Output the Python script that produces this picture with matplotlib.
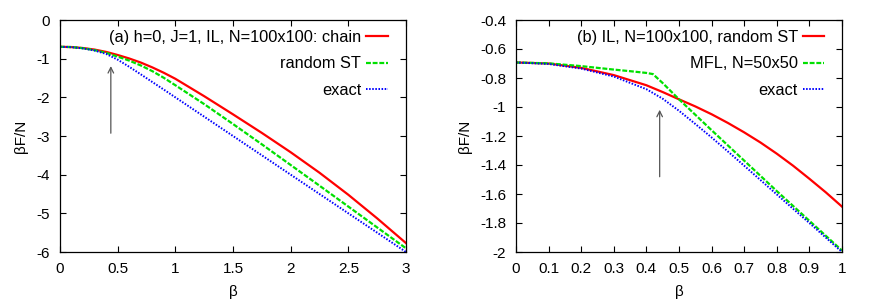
import matplotlib
matplotlib.use("Agg")
import matplotlib.pyplot as plt
from matplotlib.ticker import FormatStrFormatter

plt.rcParams['font.family'] = ['Liberation Sans', 'DejaVu Sans']
plt.rcParams['axes.unicode_minus'] = False

# (a) full beta range
beta_a = [0, 0.1, 0.2, 0.3, 0.4, 0.5, 0.6, 0.7, 0.8, 0.9, 1.0,
          1.25, 1.5, 1.75, 2.0, 2.25, 2.5, 2.75, 3.0]
chain_a = [-0.693, -0.70, -0.725, -0.765, -0.825, -0.905, -0.995, -1.10, -1.225, -1.365, -1.52,
           -1.97, -2.44, -2.92, -3.42, -3.95, -4.52, -5.13, -5.77]
randst_a = [-0.693, -0.70, -0.73, -0.78, -0.85, -0.947, -1.05, -1.175, -1.322, -1.495, -1.687,
            -2.175, -2.69, -3.215, -3.75, -4.285, -4.825, -5.365, -5.905]
exact_a = [-0.693, -0.703, -0.735, -0.79, -0.877, -1.026, -1.21, -1.405, -1.603, -1.80, -2.0,
           -2.5, -3.0, -3.5, -4.0, -4.5, -5.0, -5.5, -6.0]

# (b) zoom on 0..1
beta_b = [0, 0.1, 0.2, 0.3, 0.4, 0.45, 0.5, 0.55, 0.6, 0.65, 0.7, 0.75,
          0.8, 0.85, 0.9, 0.95, 1.0]
randst_b = [-0.693, -0.70, -0.73, -0.78, -0.85, -0.897, -0.947, -0.996, -1.05, -1.11,
            -1.175, -1.245, -1.322, -1.405, -1.495, -1.588, -1.687]
exact_b = [-0.693, -0.703, -0.735, -0.79, -0.877, -0.943, -1.026, -1.117, -1.21, -1.307,
           -1.405, -1.504, -1.603, -1.702, -1.80, -1.90, -2.0]
beta_mfl = [0, 0.1, 0.2, 0.3, 0.35, 0.4, 0.42, 0.45, 0.5, 0.6, 0.7, 0.8, 0.9, 1.0]
mfl_b = [-0.693, -0.699, -0.718, -0.742, -0.753, -0.765, -0.773, -0.835, -0.947,
         -1.16, -1.37, -1.58, -1.785, -1.99]

beta_c = 0.4407  # arrow position

W, H = 872, 305
fig = plt.figure(figsize=(W / 100, H / 100), dpi=100)
ax1 = fig.add_axes([60 / W, 1 - 252 / H, 346 / W, 232 / H])
ax2 = fig.add_axes([516 / W, 1 - 252 / H, 326 / W, 232 / H])

red = dict(color='#ff0000', lw=1.6, ls='-')
green = dict(color='#00e000', lw=1.6, ls=(0, (2.2, 0.8)))
blue = dict(color='#0000ff', lw=1.4, ls=(0, (0.8, 0.8)))

ax1.plot(beta_a, chain_a, label='(a) h=0, J=1, IL, N=100x100: chain', **red)
ax1.plot(beta_a, randst_a, label='random ST', **green)
ax1.plot(beta_a, exact_a, label='exact', **blue)
ax1.annotate('', xy=(beta_c, -1.12), xytext=(beta_c, -3.0),
             arrowprops=dict(arrowstyle='->', color='#555555', lw=0.9))
ax1.set_xlim(0, 3)
ax1.set_ylim(-6, 0)
ax1.set_xticks([0, 0.5, 1, 1.5, 2, 2.5, 3])
ax1.set_yticks([0, -1, -2, -3, -4, -5, -6])

ax2.plot(beta_b, randst_b, label='(b) IL, N=100x100, random ST', **red)
ax2.plot(beta_mfl, mfl_b, label='MFL, N=50x50', **green)
ax2.plot(beta_b, exact_b, label='exact', **blue)
ax2.annotate('', xy=(beta_c, -1.0), xytext=(beta_c, -1.5),
             arrowprops=dict(arrowstyle='->', color='#555555', lw=0.9))
ax2.set_xlim(0, 1)
ax2.set_ylim(-2, -0.4)
ax2.set_xticks([0, 0.1, 0.2, 0.3, 0.4, 0.5, 0.6, 0.7, 0.8, 0.9, 1])
ax2.set_yticks([-2, -1.8, -1.6, -1.4, -1.2, -1, -0.8, -0.6, -0.4])

for ax in (ax1, ax2):
    ax.xaxis.set_major_formatter(FormatStrFormatter('%g'))
    ax.yaxis.set_major_formatter(FormatStrFormatter('%g'))
    ax.tick_params(direction='in', top=True, right=True, length=4.5, width=0.8,
                   labelsize=11, pad=7)
    for s in ax.spines.values():
        s.set_linewidth(0.9)
    ax.set_xlabel('β', fontsize=11, labelpad=7)
    ax.set_ylabel('βF/N', fontsize=11, labelpad=6)
    ax.legend(loc='upper right', frameon=False, markerfirst=False, fontsize=11.8,
              handlelength=1.3, handletextpad=0.3, labelspacing=0.7,
              borderaxespad=0.2, bbox_to_anchor=(0.975, 1.0))

fig.savefig('out.png', dpi=100)
